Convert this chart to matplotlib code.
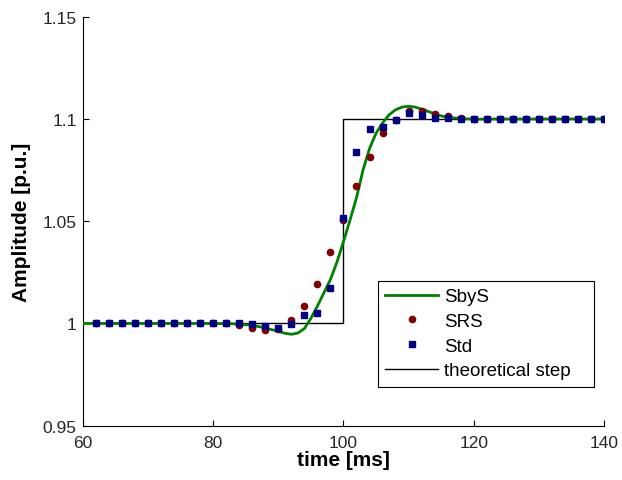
import numpy as np
import matplotlib.pyplot as plt

plt.rcParams['font.family'] = ['Liberation Sans', 'DejaVu Sans']

# SbyS response (continuous curve)
t_sbys = [60, 70, 80, 82, 84, 86, 88, 90, 91, 92, 93, 94, 95, 96, 97, 98, 99, 100,
          101, 102, 103, 104, 105, 106, 107, 108, 109, 110, 111, 112, 113, 114,
          115, 116, 118, 120, 125, 130, 140]
a_sbys = [1.0, 1.0, 1.0, 0.9999, 0.9997, 0.9991, 0.9978, 0.9961, 0.9952, 0.9947,
          0.9953, 0.9975, 1.0025, 1.0085, 1.0150, 1.0215, 1.0300, 1.0400,
          1.0505, 1.0615, 1.0750, 1.0855, 1.0930, 1.0980, 1.1020, 1.1045,
          1.1058, 1.1062, 1.1058, 1.1048, 1.1037, 1.1025, 1.1015, 1.1008,
          1.1002, 1.0999, 1.1, 1.1, 1.1]

# sampled estimates, every 2 ms
t_pts = list(range(62, 141, 2))
a_srs = [1.0] * 11 + [0.9990, 0.9980, 0.9968, 0.9975, 1.0015, 1.0087, 1.0195,
                      1.0350, 1.0505, 1.0673, 1.0816, 1.0929, 1.0993, 1.1040,
                      1.1037, 1.1026, 1.1014, 1.1005] + [1.1] * 11
a_std = [1.0] * 12 + [0.9999, 0.9988, 0.9976, 0.9999, 1.0043, 1.0050, 1.0172,
                      1.0514, 1.0840, 1.0951, 1.0963, 1.0995, 1.1029, 1.1018,
                      1.1005, 1.1004] + [1.1] * 12

# theoretical step
t_step = [60, 100, 100, 140]
a_step = [1.0, 1.0, 1.1, 1.1]

fig = plt.figure(figsize=(6.22, 4.81), dpi=100)
ax = fig.add_axes([0.1334, 0.1129, 0.8376, 0.8503])

ax.plot(t_sbys, a_sbys, color='#008000', lw=2, label='SbyS', zorder=3)
ax.plot(t_pts, a_srs, 'o', color='#800000', ms=4.5, mec='#800000', label='SRS', zorder=4)
ax.plot(t_pts, a_std, 's', color='#000080', ms=4.5, mec='#000080', label='Std', zorder=5)
ax.plot(t_step, a_step, color='black', lw=1, label='theoretical step', zorder=2)

ax.set_xlim(60, 140)
ax.set_ylim(0.95, 1.15)
ax.set_xticks([60, 80, 100, 120, 140])
ax.set_yticks([0.95, 1.0, 1.05, 1.1, 1.15])
ax.set_yticklabels(['0.95', '1', '1.05', '1.1', '1.15'])
ax.tick_params(direction='in', length=4.5, labelsize=12.5, colors='black',
               labelcolor='#262626', pad=4.5)
ax.tick_params(axis='x', pad=6.5)
ax.spines['top'].set_visible(False)
ax.spines['right'].set_visible(False)
for s in ['left', 'bottom']:
    ax.spines[s].set_linewidth(0.8)

ax.set_xlabel('time [ms]', fontsize=15, fontweight='bold', labelpad=0)
ax.set_ylabel('Amplitude [p.u.]', fontsize=15, fontweight='bold', labelpad=8)

leg = ax.legend(loc='upper left', bbox_to_anchor=(0.566, 0.3545, 0.4146, 0.0),
                mode='expand', fontsize=13.5,
                fancybox=False, edgecolor='black', framealpha=1, handlelength=2.8,
                borderaxespad=0, labelspacing=0.4, handletextpad=0.35, borderpad=0.4)
leg.get_frame().set_linewidth(0.8)

fig.savefig('out.png', dpi=100)
